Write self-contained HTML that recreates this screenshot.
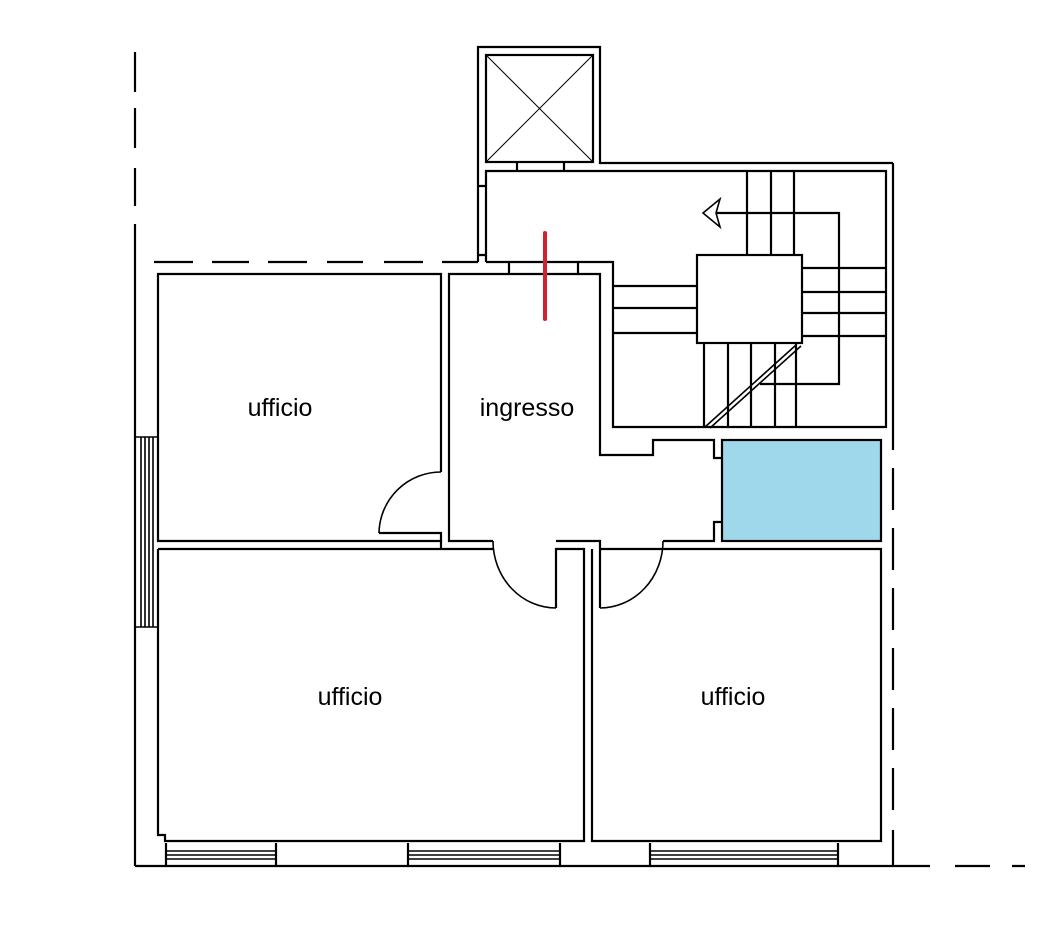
<!DOCTYPE html>
<html><head><meta charset="utf-8"><style>body{margin:0;background:#fff}svg{display:block}text{font-family:"Liberation Sans",sans-serif;font-size:25px;fill:#000;text-anchor:middle}</style></head><body>
<svg width="1057" height="927" viewBox="0 0 1057 927" xmlns="http://www.w3.org/2000/svg">
<g fill="none" stroke="#000" stroke-width="2.2">
<path d="M135 52V92M135 108V148M135 168V206M135 224V866"/>
<path d="M154 262H193M212 262H249M268 262H307M327 262H363M384 262H423M442 262H478"/>
<path d="M893 163V450M893 468V510M893 528V570M893 588V630M893 648V690M893 708V750M893 768V810M893 830V866"/>
<path d="M135 866H930M955 866H990M1012 866H1025"/>
<path d="M478 262V47H600V163H893"/>
<rect x="486" y="55" width="107" height="107"/>
<path d="M486 55L593 162M593 55L486 162" stroke-width="1"/>
<path d="M517 162V171M564 162V171M478 186H486M478 255H486"/>
<path d="M486 262V171H886V427H613V262H486"/>
<path d="M509 262V274M578 262V274"/>
<rect x="697" y="255" width="105" height="88"/>
<path d="M747 171V255M771 171V255M794 171V255"/>
<path d="M802 268H886M802 292H886M802 313H886M802 336H886"/>
<path d="M613 286H697M613 308H697M613 333H697"/>
<path d="M704 343V427M728 343V427M751 343V427M775 343V427M796 343V427"/>
<path d="M717 213H839V384H760"/>
<path d="M720 199L703 213L720 227L716 213Z" stroke-width="1.6" fill="#fff"/>
<path d="M705 427L796 345M710 428L801 346" stroke-width="1.6"/>
<path d="M449 532V274H600V455H653V440H714V458H722"/>
<path d="M722 522H714V541H663"/>
<path d="M449 532V541H493"/>
<path d="M441 472V274H158V541H441V533H379"/>
<path d="M379 533A62 62 0 0 1 441 472" stroke-width="1.6"/>
<path d="M158 549H441V541M441 549H493"/>
<path d="M158 549V835H165V841H584V549H556V608"/>
<path d="M493 541A63 67 0 0 0 556 608" stroke-width="1.6"/>
<path d="M556 541H600V608"/>
<path d="M663 541A63 67 0 0 1 600 608" stroke-width="1.6"/>
<path d="M592 549V841H881V549H600"/>
<rect x="722" y="440" width="159" height="101" fill="#9fd8ea"/>
<path d="M166 843V866M276 843V866M408 843V866M560 843V866M650 843V866M838 843V866"/>
<path d="M166 851H276M166 855H276M166 859H276M408 851H560M408 855H560M408 859H560M650 851H838M650 855H838M650 859H838" stroke-width="1.6"/>
<path d="M135 437H157M135 627H157M141 437V627M145 437V627M149 437V627M153 437V627" stroke-width="1.6"/>
</g>
<line x1="545" y1="233" x2="545" y2="319" stroke="#d0232f" stroke-width="4" stroke-linecap="round"/>
<text x="280" y="416">ufficio</text>
<text x="527" y="416">ingresso</text>
<text x="350" y="705">ufficio</text>
<text x="733" y="705">ufficio</text>
</svg>
</body></html>
